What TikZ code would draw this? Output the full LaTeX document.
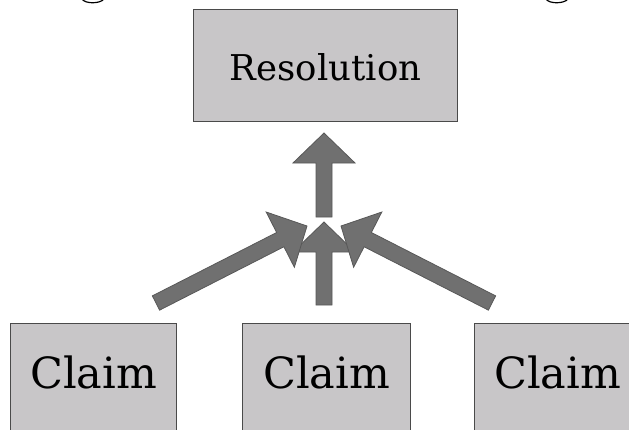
\documentclass[tikz,border=0pt]{standalone}
\usepackage{fontspec}
\newfontfamily\diagserif{DejaVu Serif}
\usetikzlibrary{calc}
\definecolor{boxfill}{HTML}{C8C6C8}
\definecolor{boxline}{HTML}{4A4A4A}
\definecolor{arrowfill}{HTML}{707070}
\definecolor{arrowline}{HTML}{585858}
\tikzset{
  box/.style={draw=boxline, line width=1.2pt, fill=boxfill, inner xsep=0pt, inner ysep=0pt, anchor=north west, text=black},
  claimbox/.style={box, minimum width=166pt, text height=65pt, text depth=62pt, font=\diagserif\fontsize{43}{43}\selectfont},
  resbox/.style={box, minimum width=264pt, text height=71pt, text depth=41pt, font=\diagserif\fontsize{35.5}{35.5}\selectfont},
  fatarrow/.style={fill=arrowfill, draw=arrowline, line width=0.8pt, line join=miter},
  fragment/.style={draw=black, line width=1.2pt}
}
% #1 tail coordinate name, #2 tip coordinate name
\newcommand\fatarr[2]{%
  \coordinate (#1-neck) at ($(#2)!30pt!(#1)$);
  \filldraw[fatarrow]
    ($(#1)!8pt!90:(#2)$) -- ($(#1-neck)!8pt!-90:(#1)$) -- ($(#1-neck)!31pt!-90:(#1)$)
    -- (#2) -- ($(#1-neck)!31pt!90:(#1)$) -- ($(#1-neck)!8pt!90:(#1)$)
    -- ($(#1)!8pt!-90:(#2)$) -- cycle;
}
\begin{document}
\begin{tikzpicture}[x=1pt,y=-1pt]
\useasboundingbox (0,0) rectangle (629,429);

% cropped fragments at the top edge
\draw[fragment] (82,-1) .. controls (85,4) and (100,4) .. (104,-1);
\draw[fragment] (546,-1) .. controls (549,4) and (564,4) .. (568,-1);

\node[resbox] (res) at (193,9) {Resolution};
\node[claimbox] (c1) at (10,323) {Claim};
\node[claimbox, minimum width=168pt] (c2) at (242,323) {Claim};
\node[claimbox] (c3) at (474,323) {Claim};

\coordinate (lt) at (156,303);
\coordinate (lh) at (307,226);
\coordinate (rt) at (492,303);
\coordinate (rh) at (341,226);
\coordinate (mt) at (324,305);
\coordinate (mh) at (324,222);
\coordinate (ut) at (324,217);
\coordinate (uh) at (324,133);

\fatarr{mt}{mh}
\fatarr{lt}{lh}
\fatarr{rt}{rh}
\fatarr{ut}{uh}
\end{tikzpicture}
\end{document}
